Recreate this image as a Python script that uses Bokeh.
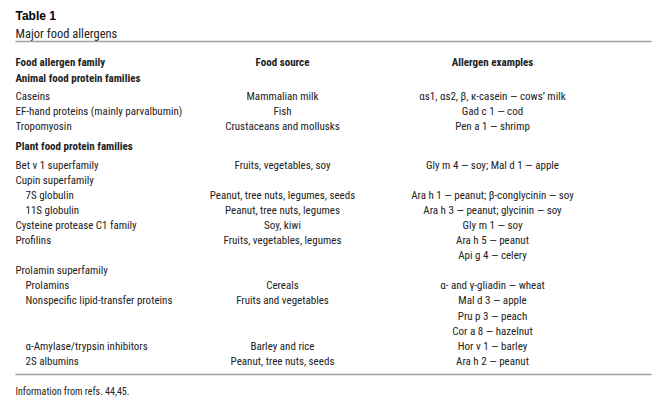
from bokeh.plotting import figure
from bokeh.models import ColumnDataSource, Range1d
from bokeh.core.properties import value
from bokeh.embed import file_html
from bokeh.resources import INLINE

# ---------------- data ----------------
title = "Table 1"
subtitle = "Major food allergens"
headers = ["Food allergen family", "Food source", "Allergen examples"]
footnote = "Information from refs. 44,45."

# level: 0 = section header (bold), 1 = family, 2 = indented sub-family
row_family = [
    "Animal food protein families",
    "Caseins",
    "EF-hand proteins (mainly parvalbumin)",
    "Tropomyosin",
    "Plant food protein families",
    "Bet v 1 superfamily",
    "Cupin superfamily",
    "7S globulin",
    "11S globulin",
    "Cysteine protease C1 family",
    "Profilins",
    "",
    "Prolamin superfamily",
    "Prolamins",
    "Nonspecific lipid-transfer proteins",
    "",
    "",
    "\u03b1-Amylase/trypsin inhibitors",
    "2S albumins",
]
row_level = [0, 1, 1, 1, 0, 1, 1, 2, 2, 1, 1, 1, 1, 2, 2, 2, 2, 2, 2]
row_source = [
    "", "Mammalian milk", "Fish", "Crustaceans and mollusks",
    "", "Fruits, vegetables, soy", "", "Peanut, tree nuts, legumes, seeds",
    "Peanut, tree nuts, legumes", "Soy, kiwi", "Fruits, vegetables, legumes", "",
    "", "Cereals", "Fruits and vegetables", "", "", "Barley and rice",
    "Peanut, tree nuts, seeds",
]
row_example = [
    "",
    "\u03b1s1, \u03b1s2, \u03b2, \u03ba-casein \u2014 cows\u2019 milk",
    "Gad c 1 \u2014 cod",
    "Pen a 1 \u2014 shrimp",
    "",
    "Gly m 4 \u2014 soy; Mal d 1 \u2014 apple",
    "",
    "Ara h 1 \u2014 peanut; \u03b2-conglycinin \u2014 soy",
    "Ara h 3 \u2014 peanut; glycinin \u2014 soy",
    "Gly m 1 \u2014 soy",
    "Ara h 5 \u2014 peanut",
    "Api g 4 \u2014 celery",
    "",
    "\u03b1- and \u03b3-gliadin \u2014 wheat",
    "Mal d 3 \u2014 apple",
    "Pru p 3 \u2014 peach",
    "Cor a 8 \u2014 hazelnut",
    "Hor v 1 \u2014 barley",
    "Ara h 2 \u2014 peanut",
]

# ---------------- layout ----------------
FONT = value("Liberation Sans Narrow, Arial Narrow, Roboto Condensed, Liberation Sans, sans-serif")
TFONT = value("Liberation Sans, Arial, sans-serif")
TXT = "#222222"
X0, X1 = 15, 651
XSRC, XEX = 282, 492
INDENT = 10
BODY = "11px"

W, H = 667, 410
p = figure(width=W, height=H, output_backend="svg", toolbar_location=None,
           x_range=Range1d(0, W), y_range=Range1d(H, 0),
           min_border=0)
p.axis.visible = False
p.grid.visible = False
p.outline_line_color = None
p.background_fill_color = "white"
p.border_fill_color = "white"

# compute row y positions
ys = []
y = 78.0
STEP = 15.1
for i, lvl in enumerate(row_level):
    if i > 0:
        y += STEP
        if lvl == 0:
            y += 5
        if row_level[i - 1] == 0:
            y += 3
    ys.append(y)

# title & subtitle
p.text(x=[X0], y=[15], text=[title], text_font=TFONT, text_font_size="12px",
       text_font_style="bold", text_color="#000000", text_baseline="middle", text_align="left")
p.text(x=[X0], y=[33], text=[subtitle], text_font=FONT, text_font_size="12.5px",
       text_color=TXT, text_baseline="middle", text_align="left")

# rules
p.segment(x0=[X0, X0], x1=[X1, X1], y0=[41, 374], y1=[41, 374],
          line_color="#a0a0a0", line_width=1.6)

# headers
p.text(x=[X0, XSRC, XEX], y=[62] * 3, text=headers, text_font=FONT,
       text_font_size=BODY, text_font_style="bold", text_color=TXT,
       text_baseline="middle", text_align=["left", "center", "center"])

# section headers (bold)
sec = ColumnDataSource(dict(
    x=[X0 for l in row_level if l == 0],
    y=[yy for yy, l in zip(ys, row_level) if l == 0],
    t=[f for f, l in zip(row_family, row_level) if l == 0]))
p.text(x="x", y="y", text="t", source=sec, text_font=FONT, text_font_size=BODY,
       text_font_style="bold", text_color=TXT, text_baseline="middle", text_align="left")

# family names
fam = ColumnDataSource(dict(
    x=[X0 + (l - 1) * INDENT for l in row_level if l > 0],
    y=[yy for yy, l in zip(ys, row_level) if l > 0],
    t=[f for f, l in zip(row_family, row_level) if l > 0]))
p.text(x="x", y="y", text="t", source=fam, text_font=FONT, text_font_size=BODY,
       text_color=TXT, text_baseline="middle", text_align="left")

# food sources
src = ColumnDataSource(dict(x=[XSRC] * len(ys), y=ys, t=row_source))
p.text(x="x", y="y", text="t", source=src, text_font=FONT, text_font_size=BODY,
       text_color=TXT, text_baseline="middle", text_align="center")

# allergen examples
ex = ColumnDataSource(dict(x=[XEX] * len(ys), y=ys, t=row_example))
p.text(x="x", y="y", text="t", source=ex, text_font=FONT, text_font_size=BODY,
       text_color=TXT, text_baseline="middle", text_align="center")

# footnote
p.text(x=[X0], y=[391], text=[footnote], text_font=FONT, text_font_size="10px",
       text_color=TXT, text_baseline="middle", text_align="left")

open("out.html", "w").write(file_html(p, INLINE))
